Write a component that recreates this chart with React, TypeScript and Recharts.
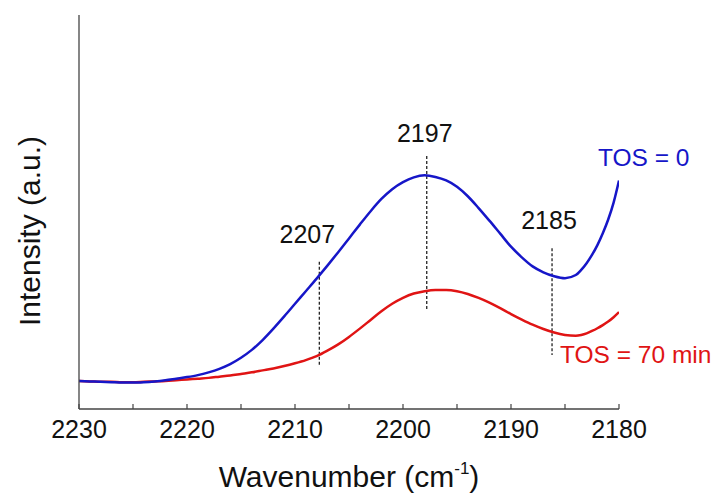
import React from "react";
import { LineChart, Line, XAxis, YAxis, ReferenceLine, ReferenceDot } from "recharts";

// x categories (cm-1); half steps where the blue curve turns up sharply
const wavenumbers = [
  2230, 2229, 2228, 2227, 2226, 2225, 2224, 2223, 2222, 2221, 2220, 2219, 2218,
  2217, 2216, 2215, 2214, 2213, 2212, 2211, 2210, 2209, 2208, 2207, 2206, 2205,
  2204, 2203, 2202, 2201, 2200, 2199, 2198, 2197, 2196, 2195, 2194, 2193, 2192,
  2191, 2190, 2189, 2188, 2187, 2186, 2185, 2184, 2183.5, 2183, 2182.5, 2182,
  2181.5, 2181, 2180.5, 2180,
];

// TOS = 0 (blue)
const tos0 = [
  0.071, 0.07, 0.069, 0.068, 0.067, 0.067, 0.068, 0.07, 0.073, 0.077, 0.081,
  0.086, 0.093, 0.102, 0.114, 0.13, 0.15, 0.175, 0.204, 0.235, 0.267, 0.299,
  0.331, 0.364, 0.398, 0.433, 0.468, 0.502, 0.533, 0.558, 0.576, 0.588, 0.593,
  0.589, 0.58, 0.564, 0.54, 0.51, 0.478, 0.445, 0.412, 0.385, 0.362, 0.347,
  0.337, 0.332, 0.34, 0.353, 0.37, 0.391, 0.416, 0.446, 0.481, 0.524, 0.58,
];

// TOS = 70 min (red)
const tos70 = [
  0.071, 0.07, 0.069, 0.069, 0.068, 0.068, 0.069, 0.07, 0.071, 0.073, 0.075,
  0.077, 0.079, 0.082, 0.085, 0.089, 0.093, 0.098, 0.103, 0.109, 0.116, 0.124,
  0.134, 0.148, 0.164, 0.183, 0.204, 0.226, 0.248, 0.267, 0.282, 0.293, 0.299,
  0.302, 0.302, 0.299, 0.292, 0.282, 0.27, 0.256, 0.241, 0.227, 0.214, 0.203,
  0.194, 0.188, 0.186, 0.188, 0.192, 0.198, 0.205, 0.213, 0.222, 0.233, 0.246,
];

const xTicks = [2230, 2225, 2220, 2215, 2210, 2205, 2200, 2195, 2190, 2185, 2180];

// peak markers
const peakNames = ["2207", "2197", "2185"];
const peakAt = [2207.75, 2197.8, 2186.2];
const peakTop = [0.374, 0.642, 0.408];
const peakBottom = [0.107, 0.254, 0.137];

// series labels
const seriesNames = ["TOS = 0", "TOS = 70 min"];

const BLUE = "#1616c8";
const RED = "#e01414";
const AXIS = "#444";
const FONT = "Arial, 'Liberation Sans', sans-serif";

// label offsets from the top of each marker line (px)
const peakLabelOffset = [
  { dx: -12, dy: -19 },
  { dx: -2, dy: -14 },
  { dx: -3, dy: -19 },
];

const data = wavenumbers.map((w, i) => ({
  wavenumber: w,
  tos0: tos0[i],
  tos70: tos70[i],
}));

const XTick = ({ x, y, payload }: any) => {
  const v = payload.value;
  return (
    <g>
      <line x1={x} x2={x} y1={y} y2={y - 5} stroke={AXIS} strokeWidth={1.2} />
      {v % 10 === 0 && (
        <text x={x} y={y + 29} textAnchor="middle" fontSize={25} fill="#111" fontFamily={FONT}>
          {v}
        </text>
      )}
    </g>
  );
};

export default function App() {
  return (
    <div style={{ position: "absolute", left: 0, top: 0, background: "#fff" }}>
      <LineChart
        width={718}
        height={497}
        data={data}
        margin={{ top: 15, right: 99, bottom: 0, left: 0 }}
      >
        <XAxis
          dataKey="wavenumber"
          type="number"
          domain={[2180, 2230]}
          reversed
          ticks={xTicks}
          interval={0}
          height={88}
          tickSize={0}
          tickMargin={0}
          tickLine={false}
          tick={<XTick />}
          axisLine={{ stroke: AXIS, strokeWidth: 1.3 }}
          allowDataOverflow
          label={{
            content: ({ viewBox }: any) => (
              <text
                x={viewBox.x + viewBox.width / 2}
                y={viewBox.y + 78}
                textAnchor="middle"
                fontSize={30}
                fill="#111"
                fontFamily={FONT}
              >
                Wavenumber (cm
                <tspan fontSize={17} dy={-13}>-1</tspan>
                <tspan dy={13}>)</tspan>
              </text>
            ),
          }}
        />
        <YAxis
          type="number"
          domain={[0, 1]}
          width={79}
          tick={false}
          tickLine={false}
          axisLine={{ stroke: AXIS, strokeWidth: 1.3 }}
          label={{
            content: ({ viewBox }: any) => {
              const cx = viewBox.x + 29;
              const cy = viewBox.y + viewBox.height / 2 + 19;
              return (
                <text
                  x={cx}
                  y={cy}
                  transform={`rotate(-90 ${cx} ${cy})`}
                  textAnchor="middle"
                  dominantBaseline="central"
                  fontSize={30}
                  fill="#111"
                  fontFamily={FONT}
                >
                  Intensity (a.u.)
                </text>
              );
            },
          }}
        />

        {peakAt.map((w, i) => (
          <ReferenceLine
            key={`line-${i}`}
            segment={[
              { x: w, y: peakTop[i] },
              { x: w, y: peakBottom[i] },
            ]}
            stroke="#111"
            strokeWidth={1.2}
            strokeDasharray="3 2"
          />
        ))}
        {peakAt.map((w, i) => (
          <ReferenceDot
            key={`lbl-${i}`}
            x={w}
            y={peakTop[i]}
            r={0}
            fill="none"
            stroke="none"
            label={{
              content: ({ viewBox }: any) => (
                <text
                  x={viewBox.x + peakLabelOffset[i].dx}
                  y={viewBox.y + peakLabelOffset[i].dy}
                  textAnchor="middle"
                  fontSize={25}
                  fill="#111"
                  fontFamily={FONT}
                >
                  {peakNames[i]}
                </text>
              ),
            }}
          />
        ))}

        <Line
          type="monotone"
          dataKey="tos70"
          stroke={RED}
          strokeWidth={2.5}
          dot={false}
          isAnimationActive={false}
        />
        <Line
          type="monotone"
          dataKey="tos0"
          stroke={BLUE}
          strokeWidth={2.5}
          dot={false}
          isAnimationActive={false}
        />

        <ReferenceDot
          x={wavenumbers[wavenumbers.length - 1]}
          y={tos0[tos0.length - 1]}
          r={0}
          fill="none"
          stroke="none"
          label={{
            content: ({ viewBox }: any) => (
              <text x={viewBox.x - 21} y={viewBox.y - 14} fontSize={24.5} fill={BLUE} fontFamily={FONT}>
                {seriesNames[0]}
              </text>
            ),
          }}
        />
        <ReferenceDot
          x={wavenumbers[wavenumbers.length - 1]}
          y={tos70[tos70.length - 1]}
          r={0}
          fill="none"
          stroke="none"
          label={{
            content: ({ viewBox }: any) => (
              <text x={viewBox.x - 59} y={viewBox.y + 51} fontSize={24.5} fill={RED} fontFamily={FONT}>
                {seriesNames[1]}
              </text>
            ),
          }}
        />
      </LineChart>
    </div>
  );
}
